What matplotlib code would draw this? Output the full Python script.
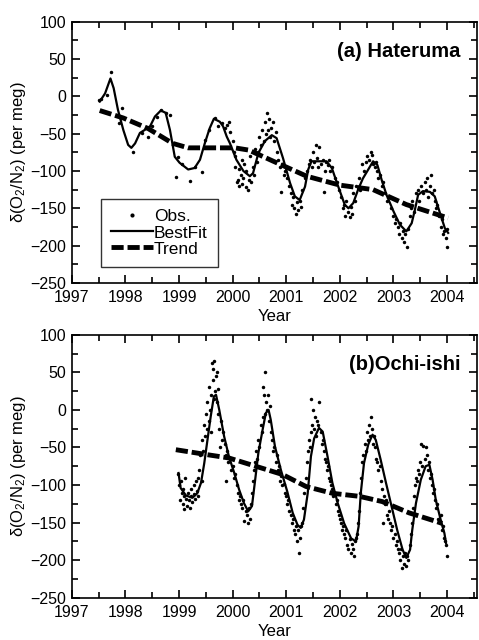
import matplotlib
matplotlib.use("Agg")
import matplotlib.pyplot as plt
from matplotlib.ticker import MultipleLocator

plt.rcParams['font.family'] = ['Liberation Sans', 'DejaVu Sans']
plt.rcParams['mathtext.default'] = 'regular'

# ---- (a) Hateruma ----
hat_obs_x = [1997.50, 1997.55, 1997.65, 1997.73, 1997.88, 1997.93,
             1998.14, 1998.30, 1998.42, 1998.50, 1998.58, 1998.67, 1998.75, 1998.83, 1998.94, 1998.98,
             1999.05, 1999.20, 1999.30, 1999.42, 1999.48, 1999.55, 1999.67, 1999.72, 1999.80, 1999.85,
             1999.90, 1999.93, 1999.95,
             2000.00, 2000.02, 2000.05, 2000.05, 2000.08, 2000.10, 2000.12, 2000.12, 2000.15, 2000.18,
             2000.18, 2000.20, 2000.22, 2000.25, 2000.25, 2000.28, 2000.30, 2000.32, 2000.35, 2000.38,
             2000.40, 2000.42, 2000.45, 2000.48, 2000.50, 2000.52, 2000.55, 2000.58, 2000.60, 2000.62,
             2000.65, 2000.66, 2000.68, 2000.70, 2000.72, 2000.75, 2000.78, 2000.80, 2000.82, 2000.85,
             2000.88, 2000.90, 2000.92, 2000.95, 2000.98,
             2001.02, 2001.05, 2001.08, 2001.10, 2001.12, 2001.15, 2001.18, 2001.20, 2001.22, 2001.25,
             2001.28, 2001.30, 2001.35, 2001.38, 2001.42, 2001.45, 2001.48, 2001.50, 2001.52, 2001.55,
             2001.58, 2001.60, 2001.62, 2001.65, 2001.68, 2001.70, 2001.72, 2001.75, 2001.78, 2001.80,
             2001.82, 2001.85, 2001.90, 2001.95, 2001.98,
             2002.02, 2002.05, 2002.08, 2002.10, 2002.12, 2002.15, 2002.18, 2002.20, 2002.22, 2002.25,
             2002.28, 2002.30, 2002.35, 2002.38, 2002.42, 2002.45, 2002.48, 2002.50, 2002.55, 2002.58,
             2002.60, 2002.62, 2002.65, 2002.68, 2002.70, 2002.72, 2002.75, 2002.78, 2002.80, 2002.85,
             2002.88, 2002.92, 2002.95,
             2003.00, 2003.02, 2003.05, 2003.08, 2003.10, 2003.12, 2003.15, 2003.18, 2003.20, 2003.22,
             2003.25, 2003.28, 2003.30, 2003.32, 2003.35, 2003.38, 2003.42, 2003.45, 2003.48, 2003.52,
             2003.55, 2003.58, 2003.60, 2003.62, 2003.65, 2003.68, 2003.70, 2003.72, 2003.75, 2003.78,
             2003.80, 2003.82, 2003.85, 2003.88, 2003.90, 2003.92, 2003.95, 2003.98, 2004.00, 2004.00]
hat_obs_y = [-5, -3, 2, 32, -36, -15,
             -75, -49, -54, -40, -27, -18, -22, -25, -108, -81,
             -90, -114, -95, -101, -58, -45, -29, -40, -36, -42,
             -38, -35, -48,
             -60, -75, -80, -95, -115, -112, -98, -120, -105, -85,
             -118, -110, -90, -122, -100, -125, -112, -80, -115, -95,
             -105, -70, -88, -75, -55, -65, -45, -60, -35, -50,
             -22, -45, -30, -55, -42, -35, -60, -48, -75, -85,
             -95, -128, -90, -105, -100,
             -110, -120, -130, -145, -135, -150, -158, -142, -152, -140,
             -148, -125, -110, -100, -90, -85, -95, -75, -88, -65,
             -82, -95, -68, -90, -85, -128, -100, -88, -92, -85,
             -100, -95, -110, -115, -125,
             -135, -150, -145, -160, -140, -155, -162, -148, -158, -130,
             -140, -120, -110, -125, -90, -100, -88, -80, -85, -75,
             -78, -90, -95, -88, -100, -110, -105, -120, -115, -130,
             -140, -135, -150,
             -160, -170, -165, -175, -185, -170, -190, -180, -195, -185,
             -202, -178, -160, -150, -140, -155, -130, -125, -140, -120,
             -130, -115, -125, -110, -135, -120, -105, -130, -125, -140,
             -150, -145, -160, -175, -165, -185, -180, -190, -178, -202]

hat_fit_x = [1997.52, 1997.62, 1997.72, 1997.78, 1997.86, 1997.96, 1998.05, 1998.11, 1998.18,
             1998.27, 1998.36, 1998.46, 1998.55, 1998.66, 1998.75, 1998.83, 1998.92, 1999.01,
             1999.17, 1999.29, 1999.39, 1999.48, 1999.57, 1999.65, 1999.76, 1999.82, 1999.89,
             1999.95, 2000.07, 2000.20, 2000.32, 2000.38, 2000.48, 2000.60, 2000.73, 2000.82,
             2000.94, 2001.07, 2001.16, 2001.25, 2001.35, 2001.41, 2001.47, 2001.63, 2001.75,
             2001.85, 2001.97, 2002.09, 2002.16, 2002.25, 2002.34, 2002.43, 2002.53, 2002.62,
             2002.70, 2002.78, 2002.87, 2003.00, 2003.12, 2003.24, 2003.34, 2003.40, 2003.46,
             2003.55, 2003.68, 2003.77, 2003.87, 2003.96, 2004.02]
hat_fit_y = [-7, 4, 24, 11, -18, -45, -65, -69, -63,
             -49, -45, -40, -27, -19, -22, -45, -81, -89,
             -98, -96, -85, -63, -43, -30, -34, -40, -54,
             -63, -85, -100, -107, -103, -76, -60, -52, -56,
             -83, -116, -134, -139, -121, -98, -87, -87, -87,
             -96, -121, -145, -150, -143, -125, -110, -98, -87,
             -92, -112, -132, -154, -172, -181, -170, -152, -132,
             -127, -128, -134, -157, -177, -183]

hat_trend_x = [1997.52, 1997.96, 1998.42, 1998.88, 1999.17, 1999.67, 2000.04, 2000.30,
               2000.76, 2001.38, 2002.00, 2002.62, 2003.24, 2004.02]
hat_trend_y = [-19, -29, -43, -63, -69, -69, -69, -72, -87, -107, -119, -125, -145, -163]

# ---- (b) Ochi-ishi ----
och_obs_x = [1998.98, 1999.00, 1999.02, 1999.03, 1999.05, 1999.07, 1999.08, 1999.10, 1999.10, 1999.12,
             1999.13, 1999.15, 1999.17, 1999.18, 1999.20, 1999.22, 1999.23, 1999.25, 1999.27, 1999.28,
             1999.30, 1999.32, 1999.33, 1999.35, 1999.36,
             1999.38, 1999.40, 1999.42, 1999.43, 1999.45, 1999.47, 1999.48, 1999.50, 1999.52, 1999.53,
             1999.55, 1999.56, 1999.57, 1999.60, 1999.60, 1999.62, 1999.63, 1999.64, 1999.65, 1999.66,
             1999.67, 1999.68, 1999.70, 1999.70, 1999.72, 1999.73, 1999.75, 1999.77, 1999.78, 1999.80,
             1999.82, 1999.85, 1999.87, 1999.88, 1999.90, 1999.92, 1999.95, 1999.97,
             2000.00, 2000.02, 2000.05, 2000.08, 2000.10, 2000.12, 2000.14, 2000.16, 2000.18, 2000.20,
             2000.22, 2000.24, 2000.26, 2000.28, 2000.30, 2000.32, 2000.34, 2000.36, 2000.38, 2000.40,
             2000.42, 2000.44, 2000.46, 2000.48, 2000.50, 2000.52, 2000.54, 2000.56, 2000.57, 2000.58,
             2000.60, 2000.61, 2000.62, 2000.64, 2000.66, 2000.68, 2000.70, 2000.72, 2000.74, 2000.76,
             2000.78, 2000.80, 2000.82, 2000.84, 2000.86, 2000.88, 2000.90, 2000.92, 2000.95, 2000.98,
             2001.00, 2001.02, 2001.04, 2001.06, 2001.08, 2001.10, 2001.12, 2001.14, 2001.16, 2001.18,
             2001.20, 2001.22, 2001.24, 2001.25, 2001.27, 2001.30, 2001.32, 2001.34, 2001.36, 2001.38,
             2001.40, 2001.42, 2001.44, 2001.46, 2001.47, 2001.48, 2001.50, 2001.52, 2001.54, 2001.56,
             2001.58, 2001.60, 2001.62, 2001.64, 2001.66, 2001.68, 2001.70, 2001.72, 2001.74, 2001.76,
             2001.78, 2001.80, 2001.82, 2001.84, 2001.86, 2001.88, 2001.90, 2001.92, 2001.94, 2001.96,
             2001.98,
             2002.00, 2002.02, 2002.04, 2002.06, 2002.08, 2002.10, 2002.12, 2002.14, 2002.16, 2002.18,
             2002.20, 2002.22, 2002.24, 2002.26, 2002.28, 2002.30, 2002.32, 2002.34, 2002.36, 2002.38,
             2002.40, 2002.42, 2002.44, 2002.46, 2002.48, 2002.50, 2002.52, 2002.54, 2002.56, 2002.58,
             2002.60, 2002.62, 2002.64, 2002.66, 2002.68, 2002.70, 2002.72, 2002.74, 2002.76, 2002.78,
             2002.80, 2002.82, 2002.84, 2002.86, 2002.88, 2002.90, 2002.92, 2002.94, 2002.96, 2002.98,
             2003.00, 2003.02, 2003.04, 2003.06, 2003.08, 2003.10, 2003.12, 2003.14, 2003.16, 2003.18,
             2003.20, 2003.22, 2003.24, 2003.26, 2003.28, 2003.30, 2003.32, 2003.34, 2003.36, 2003.38,
             2003.40, 2003.42, 2003.44, 2003.46, 2003.48, 2003.50, 2003.52, 2003.54, 2003.56, 2003.58,
             2003.60, 2003.62, 2003.64, 2003.66, 2003.68, 2003.70, 2003.72, 2003.74, 2003.76, 2003.78,
             2003.80, 2003.82, 2003.84, 2003.86, 2003.88, 2003.90, 2003.92, 2003.94, 2003.96, 2003.98,
             2004.00]
och_obs_y = [-85, -100, -120, -95, -110, -125, -105, -115, -132, -90,
             -118, -128, -110, -120, -130, -115, -105, -122, -112, -100,
             -118, -95, -108, -90, -115,
             -80, -60, -95, -40, -55, -20, -35, -5, -25, 10,
             -15, 30, 0, 20, -30, 62, 55, 40, 15, 65,
             25, 45, 50, 10, 28, -5, -25, -50, -15, -40,
             -30, -45, -60, -95, -55, -70, -65, -80,
             -75, -90, -85, -100, -110, -120, -115, -125, -130, -120,
             -148, -135, -140, -150, -130, -145, -125, -110, -95, -80,
             -70, -55, -65, -40, -50, -20, -30, -10, 30, 20,
             -5, 50, 10, 0, 20, -15, 5, -30, -40, -55,
             -50, -70, -60, -80, -75, -95, -88, -100, -98, -110,
             -115, -125, -120, -135, -140, -150, -145, -160, -165, -155,
             -175, -160, -190, -170, -155, -150, -130, -110, -90, -70,
             -55, -40, -50, -30, 15, -20, 0, -25, -10, -35,
             -15, -20, 10, -30, -45, -40, -55, -65, -70, -80,
             -75, -90, -95, -100, -105, -115, -110, -125, -120, -135,
             -140,
             -145, -150, -160, -155, -165, -170, -160, -180, -185, -172,
             -190, -178, -185, -195, -175, -170, -165, -150, -135, -110,
             -90, -70, -60, -45, -55, -30, -40, -20, -35, -10,
             -25, -45, -35, -50, -65, -70, -80, -75, -95, -105,
             -150, -115, -125, -120, -140, -145, -135, -150, -160, -155,
             -170, -165, -180, -175, -185, -190, -200, -185, -210, -195,
             -205, -190, -208, -195, -200, -180, -165, -150, -130, -115,
             -100, -90, -95, -80, -85, -70, -45, -75, -48, -65,
             -50, -60, -80, -70, -90, -85, -100, -110, -105, -120,
             -130, -125, -145, -150, -140, -160, -155, -170, -175, -180,
             -195]

och_fit_x = [1998.99, 1999.03, 1999.13, 1999.25, 1999.34, 1999.41, 1999.47, 1999.53, 1999.59,
             1999.65, 1999.69, 1999.75, 1999.84, 1999.93, 2000.03, 2000.12, 2000.21, 2000.29,
             2000.36, 2000.42, 2000.48, 2000.56, 2000.62, 2000.67, 2000.71, 2000.79, 2000.90,
             2001.02, 2001.12, 2001.21, 2001.27, 2001.33, 2001.40, 2001.46, 2001.52, 2001.61,
             2001.68, 2001.77, 2001.86, 2001.96, 2002.08, 2002.21, 2002.30, 2002.35, 2002.39,
             2002.45, 2002.53, 2002.61, 2002.67, 2002.76, 2002.86, 2002.95, 2003.07, 2003.17,
             2003.24, 2003.31, 2003.35, 2003.42, 2003.51, 2003.60, 2003.67, 2003.73, 2003.79,
             2003.88, 2003.95, 2003.98]
och_fit_y = [-84, -104, -114, -117, -111, -97, -71, -40, -9,
             18, 20, 0, -35, -62, -84, -106, -124, -135,
             -128, -93, -57, -26, -4, 0, -13, -49, -80,
             -109, -137, -153, -157, -146, -111, -62, -38, -24,
             -29, -62, -97, -124, -151, -171, -175, -155, -111,
             -71, -46, -33, -40, -66, -97, -124, -160, -186,
             -197, -186, -160, -124, -93, -75, -73, -93, -120,
             -146, -164, -177]

och_trend_x = [1998.94, 1999.56, 1999.93, 2000.43, 2000.93, 2001.37, 2001.86, 2002.36,
               2002.79, 2003.29, 2003.91]
och_trend_y = [-53, -60, -64, -75, -86, -102, -111, -115, -122, -137, -151]

panels = [
    ([0.150, 0.558, 0.846, 0.408], hat_obs_x, hat_obs_y, hat_fit_x, hat_fit_y,
     hat_trend_x, hat_trend_y, '(a) Hateruma', True),
    ([0.150, 0.066, 0.846, 0.411], och_obs_x, och_obs_y, och_fit_x, och_fit_y,
     och_trend_x, och_trend_y, '(b)Ochi-ishi', False),
]

fig = plt.figure(figsize=(4.79, 6.40), dpi=100)
for rect, ox, oy, fx, fy, tx, ty, title, show_leg in panels:
    ax = fig.add_axes(rect)
    ax.plot(ox, oy, 'o', color='black', markersize=2.5, markeredgewidth=0, label='Obs.')
    ax.plot(fx, fy, '-', color='black', linewidth=1.6, label='BestFit')
    ax.plot(tx, ty, '--', color='black', linewidth=3.5, dashes=(2.5, 0.8), label='Trend')
    ax.set_xlim(1997, 2004.56)
    ax.set_ylim(-250, 100)
    ax.xaxis.set_major_locator(MultipleLocator(1))
    ax.xaxis.set_minor_locator(MultipleLocator(0.5))
    ax.yaxis.set_major_locator(MultipleLocator(50))
    ax.yaxis.set_minor_locator(MultipleLocator(25))
    ax.tick_params(which='both', direction='in', top=True, right=True, width=1.2)
    ax.tick_params(which='major', length=6, labelsize=11.5)
    ax.tick_params(axis='x', which='major', pad=5)
    ax.tick_params(axis='y', which='major', pad=4)
    ax.tick_params(which='minor', length=4)
    for s in ax.spines.values():
        s.set_linewidth(1.2)
    ax.set_xlabel('Year', fontsize=12, labelpad=3)
    ax.set_ylabel('δ(O$_2$/N$_2$) (per meg)', fontsize=12, labelpad=2)
    ax.text(0.958, 0.885, title, transform=ax.transAxes, ha='right', va='center',
            fontsize=14.5, fontweight='bold')
    if show_leg:
        leg = ax.legend(loc='lower left', bbox_to_anchor=(0.072, 0.061), fontsize=12.5,
                        frameon=True, fancybox=False, edgecolor='black', borderpad=0.6,
                        handlelength=2.4, handletextpad=0.05, labelspacing=0.05,
                        borderaxespad=0, markerscale=1.2)
        leg.get_frame().set_linewidth(1.0)

fig.savefig('out.png', dpi=100)
